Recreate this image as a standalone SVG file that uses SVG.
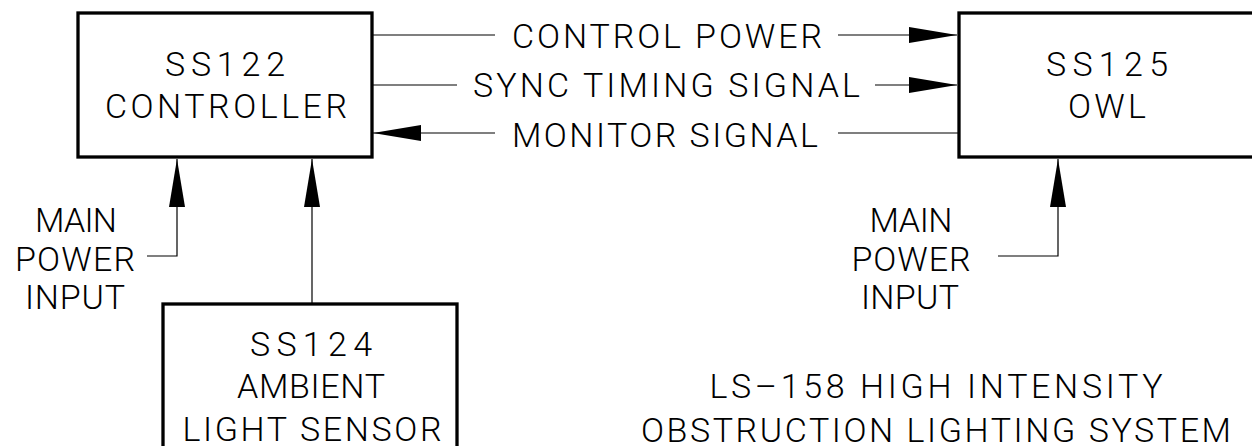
<svg xmlns="http://www.w3.org/2000/svg" width="1252" height="446" viewBox="0 0 1252 446">
  <style>
    .box { fill: #ffffff; stroke: #000000; stroke-width: 3.3; }
    .wire { fill: none; stroke: #000000; stroke-width: 1.2; }
    .t { font-family: Roboto, "Liberation Sans", Arial, sans-serif; font-weight: 300; font-size: 34px; fill: #000000; text-anchor: middle; }
  </style>
  <defs>
    <marker id="arrow" viewBox="0 0 48 16" refX="48" refY="8" markerWidth="48" markerHeight="16" markerUnits="userSpaceOnUse" orient="auto">
      <path d="M0,0 L48,8 L0,16 Z" fill="#000000"/>
    </marker>
  </defs>
  <rect width="1252" height="446" fill="#ffffff"/>

  <g id="connectors">
    <path class="wire" d="M372,35 H495"/>
    <path class="wire" d="M838,35 H957" marker-end="url(#arrow)"/>
    <path class="wire" d="M372,85 H457"/>
    <path class="wire" d="M875,85 H957" marker-end="url(#arrow)"/>
    <path class="wire" d="M958,133 H838"/>
    <path class="wire" d="M495,133 H373" marker-end="url(#arrow)"/>
    <path class="wire" d="M147,256 H177 V159" marker-end="url(#arrow)"/>
    <path class="wire" d="M312,304 V159" marker-end="url(#arrow)"/>
    <path class="wire" d="M998,256 H1058 V159" marker-end="url(#arrow)"/>
  </g>

  <g id="label-control-power">
    <text class="t" x="667" y="48" textLength="310" lengthAdjust="spacing">CONTROL  POWER</text>
  </g>
  <g id="label-sync">
    <text class="t" x="666.5" y="97" textLength="387" lengthAdjust="spacing">SYNC  TIMING  SIGNAL</text>
  </g>
  <g id="label-monitor">
    <text class="t" x="665" y="147" textLength="306" lengthAdjust="spacing">MONITOR  SIGNAL</text>
  </g>

  <g id="node-ss122">
    <rect class="box" x="78" y="13" width="294" height="144"/>
    <text class="t" x="225" y="76" textLength="120" lengthAdjust="spacing">SS122</text>
    <text class="t" x="226" y="118" textLength="242" lengthAdjust="spacing">CONTROLLER</text>
  </g>

  <g id="node-ss125">
    <rect class="box" x="959" y="13" width="400" height="144"/>
    <text class="t" x="1107" y="76" textLength="122" lengthAdjust="spacing">SS125</text>
    <text class="t" x="1107" y="118" textLength="78" lengthAdjust="spacing">OWL</text>
  </g>

  <g id="node-ss124">
    <rect class="box" x="163" y="304" width="294" height="200"/>
    <text class="t" x="311" y="356" textLength="122" lengthAdjust="spacing">SS124</text>
    <text class="t" x="311" y="398" textLength="148" lengthAdjust="spacing">AMBIENT</text>
    <text class="t" x="312" y="441" textLength="259" lengthAdjust="spacing">LIGHT  SENSOR</text>
  </g>

  <g id="main-power-left">
    <text class="t" x="76" y="232" textLength="82" lengthAdjust="spacing">MAIN</text>
    <text class="t" x="75" y="271" textLength="120" lengthAdjust="spacing">POWER</text>
    <text class="t" x="75" y="309" textLength="100" lengthAdjust="spacing">INPUT</text>
  </g>

  <g id="main-power-right">
    <text class="t" x="911" y="232" textLength="83" lengthAdjust="spacing">MAIN</text>
    <text class="t" x="911" y="271" textLength="119" lengthAdjust="spacing">POWER</text>
    <text class="t" x="910" y="309" textLength="98" lengthAdjust="spacing">INPUT</text>
  </g>

  <g id="title">
    <text class="t" x="936" y="398" textLength="453" lengthAdjust="spacing">LS–158  HIGH  INTENSITY</text>
    <text class="t" x="936" y="442" textLength="590" lengthAdjust="spacing">OBSTRUCTION  LIGHTING  SYSTEM</text>
  </g>
</svg>
